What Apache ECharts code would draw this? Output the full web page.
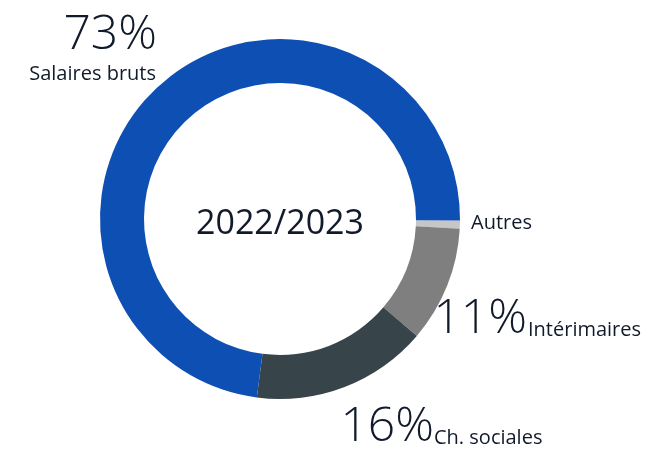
<!DOCTYPE html>
<html>
<head>
<meta charset="utf-8">
<script src="https://cdn.jsdelivr.net/npm/echarts@6/dist/echarts.min.js"></script>
<style>
html,body{margin:0;padding:0;background:#fff;}
#c{width:658px;height:450px;}
</style>
</head>
<body>
<div id="c"></div>
<script>
// Data (clockwise from 3 o'clock)
const categories = ['Autres', 'Intérimaires', 'Ch. sociales', 'Salaires bruts'];
const values = [0.72, 10.4, 15.8, 73.1];
const percentLabels = ['', '11%', '16%', '73%'];
const centerTitle = '2022/2023';
const colors = ['#c6c6c6', '#7f7f7f', '#37454a', '#0e4fb4'];

const FONT = '"Open Sans", "Noto Sans", sans-serif';
const TXT = '#101a2b';

// label layout (positions only)
const layout = {
  'Salaires bruts': {pct: {x: 157, y: 35, align: 'right'}, name: {x: 156, y: 74, align: 'right'}},
  'Autres':         {name: {x: 471, y: 223, align: 'left'}},
  'Intérimaires':   {pct: {x: 527, y: 319, align: 'right'}, name: {x: 528, y: 330, align: 'left'}},
  'Ch. sociales':   {pct: {x: 434, y: 427, align: 'right'}, name: {x: 434, y: 438, align: 'left'}}
};

const chart = echarts.init(document.getElementById('c'), null, {renderer: 'canvas'});

const graphics = [{
  type: 'text', x: 280, y: 224,
  style: {text: centerTitle, font: '34px ' + FONT, fill: TXT, align: 'center', verticalAlign: 'middle'}
}];
categories.forEach((name, i) => {
  const L = layout[name];
  if (!L) return;
  if (L.pct && percentLabels[i]) {
    graphics.push({type: 'text', x: L.pct.x, y: L.pct.y,
      style: {text: percentLabels[i], font: '300 48px ' + FONT, fill: TXT, align: L.pct.align, verticalAlign: 'middle'}});
  }
  graphics.push({type: 'text', x: L.name.x, y: L.name.y,
    style: {text: name, font: '20px ' + FONT, fill: TXT, align: L.name.align, verticalAlign: 'middle'}});
});

chart.setOption({
  animation: false,
  color: colors,
  series: [{
    type: 'pie',
    center: [280, 219],
    radius: [136, 180],
    startAngle: -0.5,
    clockwise: true,
    label: {show: false},
    labelLine: {show: false},
    itemStyle: {borderWidth: 0},
    emphasis: {disabled: true},
    data: categories.map((n, i) => ({name: n, value: values[i]}))
  }],
  graphic: graphics
});
</script>
</body>
</html>
